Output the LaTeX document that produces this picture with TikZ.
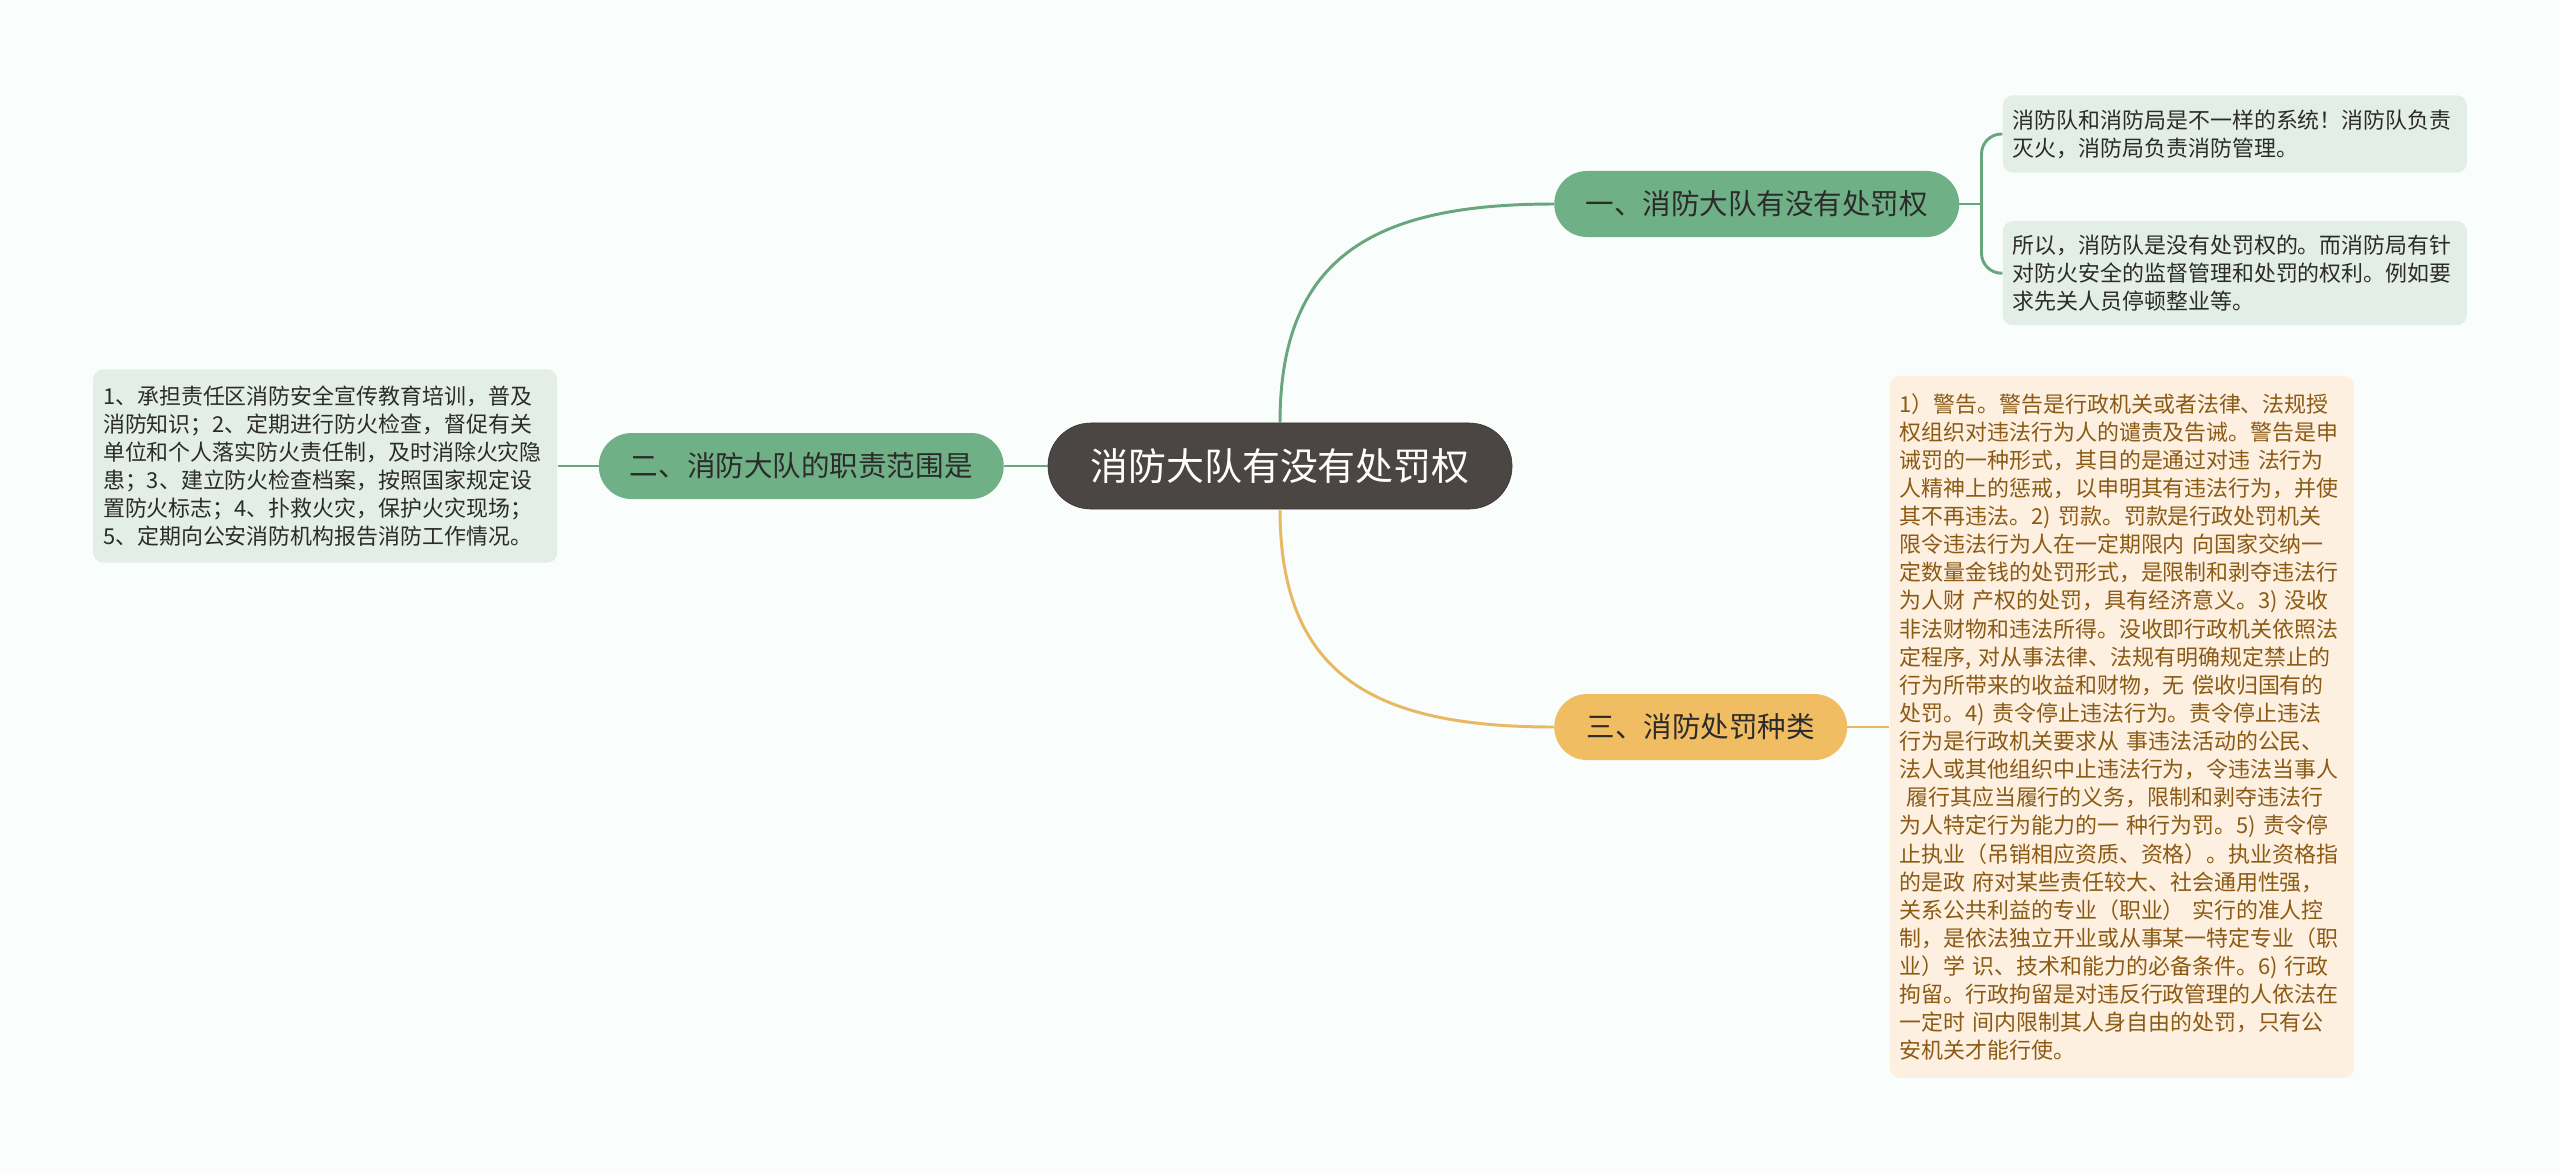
\documentclass[tikz,border=0pt]{standalone}
\usepackage{fontspec}
\setmainfont{Noto Sans CJK SC}
\usetikzlibrary{positioning}
\definecolor{PageTint}{RGB}{249,253,252}
\definecolor{RootGray}{RGB}{75,69,68}
\definecolor{RootEdge}{RGB}{58,52,52}
\definecolor{BranchGreen}{RGB}{111,176,134}
\definecolor{LinkGreen}{RGB}{104,166,126}
\definecolor{LeafGreen}{RGB}{227,238,230}
\definecolor{BranchOrange}{RGB}{241,189,99}
\definecolor{LinkOrange}{RGB}{233,184,98}
\definecolor{LeafOrange}{RGB}{253,240,224}
\definecolor{LeafBrown}{RGB}{139,90,20}
\definecolor{InkDark}{RGB}{43,43,43}
\tikzset{
  greenlink/.style={line width=2.1pt,draw=LinkGreen},
  orangelink/.style={line width=2.1pt,draw=LinkOrange},
  rootbox/.style={draw=RootEdge,fill=RootGray,text=white,rounded corners=1.07cm,
    minimum width=11.6cm,minimum height=2.15cm,inner sep=0pt,
    font=\fontsize{27}{32}\selectfont},
  greenbranch/.style={fill=BranchGreen,text=InkDark,rounded corners=0.82cm,
    minimum height=1.65cm,inner sep=0pt,font=\fontsize{20.3}{24}\selectfont},
  orangebranch/.style={fill=BranchOrange,text=InkDark,rounded corners=0.82cm,
    minimum height=1.65cm,inner sep=0pt,font=\fontsize{20.3}{24}\selectfont},
  greenleaf/.style={fill=LeafGreen,text=InkDark,rounded corners=0.25cm,
    text width=11.1cm,inner xsep=0.25cm,inner ysep=0pt,align=left,
    font=\fontsize{15.6}{20}\selectfont},
  orangeleaf/.style={fill=LeafOrange,text=LeafBrown,rounded corners=0.25cm,
    text width=11.1cm,inner xsep=0.25cm,inner ysep=0pt,align=left,
    font=\fontsize{15.6}{20}\selectfont}
}

\begin{document}
\begin{tikzpicture}[x=0.025cm,y=-0.025cm]
  \fill[PageTint] (0,0) rectangle (2560,1173);
  \useasboundingbox (0,0) rectangle (2560,1173);
  \node[rootbox] (root) at (1280,466) {消防大队有没有处罚权};
  \node[greenbranch,anchor=west,minimum width=10.12cm] (power) at (1554,204) {一、消防大队有没有处罚权};
  \node[greenbranch,anchor=east,minimum width=10.12cm] (duty) at (1004,466) {二、消防大队的职责范围是};
  \node[orangebranch,anchor=west,minimum width=7.32cm] (kinds) at (1554,727) {三、消防处罚种类};
  % leaves
  \node[greenleaf,right=1.075cm of power,yshift=1.75cm,minimum height=1.93cm] (system)
    {消防队和消防局是不一样的系统！消防队负责\\灭火，消防局负责消防管理。};
  \node[greenleaf,right=1.075cm of power,yshift=-1.73cm,minimum height=2.6cm] (noright)
    {所以，消防队是没有处罚权的。而消防局有针\\对防火安全的监督管理和处罚的权利。例如要\\求先关人员停顿整业等。};
  \node[greenleaf,left=1.025cm of duty,minimum height=4.83cm] (dutylist)
    {1、承担责任区消防安全宣传教育培训，普及\\消防知识；2、定期进行防火检查，督促有关\\单位和个人落实防火责任制，及时消除火灾隐\\患；3、建立防火检查档案，按照国家规定设\\置防火标志；4、扑救火灾，保护火灾现场；\\5、定期向公安消防机构报告消防工作情况。};
  \node[orangeleaf,right=1.05cm of kinds,minimum height=17.55cm] (kindlist)
    {1）警告。警告是行政机关或者法律、法规授\\权组织对违法行为人的谴责及告诫。警告是申\\诫罚的一种形式，其目的是通过对违 法行为\\人精神上的惩戒，以申明其有违法行为，并使\\其不再违法。2) 罚款。罚款是行政处罚机关\\限令违法行为人在一定期限内 向国家交纳一\\定数量金钱的处罚形式，是限制和剥夺违法行\\为人财 产权的处罚，具有经济意义。3) 没收\\非法财物和违法所得。没收即行政机关依照法\\定程序, 对从事法律、法规有明确规定禁止的\\行为所带来的收益和财物，无 偿收归国有的\\处罚。4) 责令停止违法行为。责令停止违法\\行为是行政机关要求从 事违法活动的公民、\\法人或其他组织中止违法行为，令违法当事人\\\hspace*{0.3em}履行其应当履行的义务，限制和剥夺违法行\\为人特定行为能力的一 种行为罚。5) 责令停\\止执业（吊销相应资质、资格）。执业资格指\\的是政 府对某些责任较大、社会通用性强，\\关系公共利益的专业（职业） 实行的准人控\\制，是依法独立开业或从事某一特定专业（职\\业）学 识、技术和能力的必备条件。6) 行政\\拘留。行政拘留是对违反行政管理的人依法在\\一定时 间内限制其人身自由的处罚，只有公\\安机关才能行使。};
  \coordinate[right=0.55cm of power] (fork);
  \draw[greenlink] (root.north) .. controls +(0,-170) and +(-175,0) .. (power.west);
  \draw[orangelink] (root.south) .. controls +(0,170) and +(-175,0) .. (kinds.west);
  \draw[greenlink] (root.west) -- (duty.east);
  \draw[greenlink] (duty.west) -- (dutylist.east);
  \draw[orangelink] (kinds.east) -- (kindlist.west);
  \draw[greenlink] (power.east) -- (fork);
  \draw[greenlink,rounded corners=0.5cm] (fork) |- (system.west);
  \draw[greenlink,rounded corners=0.5cm] (fork) |- (noright.west);
\end{tikzpicture}
\end{document}
